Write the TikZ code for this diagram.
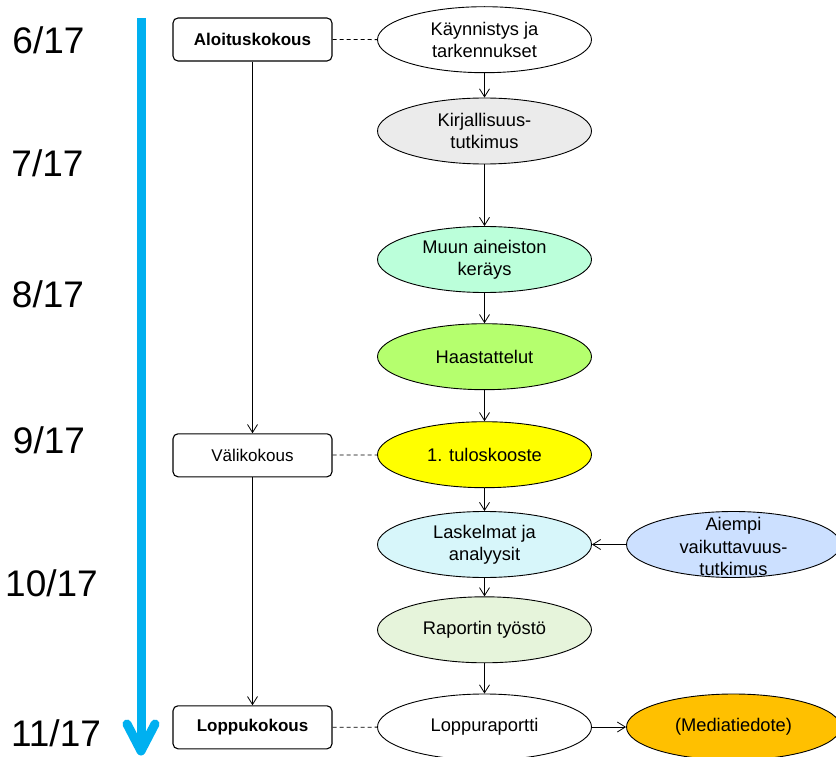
\documentclass[tikz,border=0pt]{standalone}
\usepackage{fontspec}
\setmainfont{Liberation Sans}
\usetikzlibrary{shapes.geometric,arrows.meta}

\definecolor{timeline}{HTML}{00B0F0}
\definecolor{cGray}{HTML}{EBEBEB}
\definecolor{cMint}{HTML}{BBFFDA}
\definecolor{cLime}{HTML}{B5FF6E}
\definecolor{cYellow}{HTML}{FFFF00}
\definecolor{cCyan}{HTML}{D7F6FA}
\definecolor{cBlue}{HTML}{CCE0FF}
\definecolor{cPale}{HTML}{E6F4DB}
\definecolor{cOrange}{HTML}{FFC000}

\tikzset{
  phasefont/.style={font=\fontsize{18.3}{22.3}\selectfont},
  phase/.style={ellipse, draw, line width=0.9pt, minimum width=214pt,
    minimum height=66pt, inner sep=0pt, align=center, phasefont},
  meeting/.style={rectangle, rounded corners=5pt, draw, line width=1.1pt,
    minimum width=159pt, minimum height=43pt, inner sep=0pt,
    font=\fontsize{17}{20}\selectfont},
  datelbl/.style={font=\fontsize{37}{40}\selectfont, anchor=base, inner sep=0pt},
  flow/.style={-{Straight Barb[length=8pt,width=10pt]}, line width=0.8pt},
  link/.style={dash pattern=on 4pt off 3pt, line width=0.8pt},
}

\begin{document}
\begin{tikzpicture}[x=1pt,y=-1pt]
\clip (0,0) rectangle (836,757);

% month labels
\node[datelbl] (m6)  at (48.5,54)  {6/17};
\node[datelbl] (m7)  at (47.5,176.7) {7/17};
\node[datelbl] (m8)  at (48,307.3) {8/17};
\node[datelbl] (m9)  at (49,453)   {9/17};
\node[datelbl] (m10) at (51.5,596.7) {10/17};
\node[datelbl] (m11) at (56,746)   {11/17};

% time axis
\coordinate (tTop) at (141,18);
\coordinate (tTip) at (141,751);
\coordinate (tL) at (127,724);
\coordinate (tR) at (155,724);
\draw[timeline, line width=9pt] (tTop) -- (tTip);
\draw[timeline, line width=9pt, line cap=round, line join=round] (tL) -- (tTip) -- (tR);

% meetings
\node[meeting, font=\fontsize{17}{20}\selectfont\bfseries] (alku) at (252.5,39.5) {Aloituskokous};
\node[meeting] (vali) at (252.5,455.3) {Välikokous};
\node[meeting, font=\fontsize{17}{20}\selectfont\bfseries] (loppu) at (252.5,727.3) {Loppukokous};

% work phases
\node[phase] (kayn) at (484.5,39.7) {Käynnistys ja\\tarkennukset};
\node[phase, fill=cGray] (kirj) at (484.5,131) {Kirjallisuus-\\tutkimus};
\node[phase, fill=cMint] (muun) at (484.5,259.5) {Muun aineiston\\keräys};
\node[phase, fill=cLime] (haas) at (484.5,356.7) {Haastattelut};
\node[phase, fill=cYellow] (tulos) at (484.5,454.7) {1. tuloskooste};
\node[phase, fill=cCyan] (lask) at (484.5,544.5) {Laskelmat ja\\analyysit};
\node[phase, fill=cBlue] (aiempi) at (733.5,544.5) {};
\node[align=center, inner sep=0pt, phasefont, font=\fontsize{18.3}{22.3}\selectfont] (aiempiTxt) at (733.5,546.5) {Aiempi\\vaikuttavuus-\\tutkimus};
\node[phase, fill=cPale] (rap) at (484.5,629.8) {Raportin työstö};
\node[phase] (lopp) at (484.5,727) {Loppuraportti};
\node[phase, fill=cOrange] (media) at (733.5,727) {(Mediatiedote)};

% flow of work
\draw[flow] (kayn) -- (kirj);
\draw[flow] (kirj) -- (muun);
\draw[flow] (muun) -- (haas);
\draw[flow] (haas) -- (tulos);
\draw[flow] (tulos) -- (lask);
\draw[flow] (lask) -- (rap);
\draw[flow] (rap) -- (lopp);
\draw[flow] (aiempi) -- (lask);
\draw[flow] (lopp) -- (media);

% meeting sequence
\draw[flow] (alku) -- (vali);
\draw[flow] (vali) -- (loppu);

% meetings tied to phases
\draw[link] (alku) -- (kayn);
\draw[link] (vali) -- (tulos);
\draw[link] (loppu) -- (lopp);
\end{tikzpicture}
\end{document}
